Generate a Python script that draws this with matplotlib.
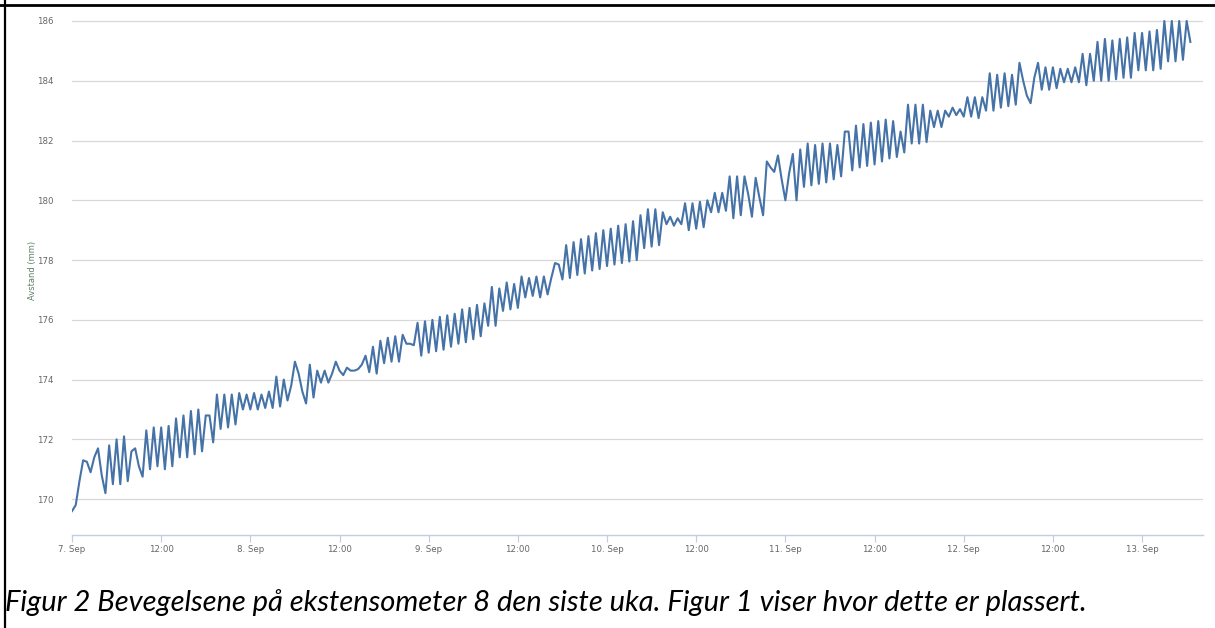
import numpy as np
import matplotlib
matplotlib.use("Agg")
import matplotlib.pyplot as plt
from matplotlib.lines import Line2D

# Distance readings (mm), one value every 30 minutes starting 7. Sep 00:00
values = [
    169.6, 169.8, 170.6, 171.3, 171.25, 170.9, 171.4, 171.7, 170.8, 170.2, 171.8, 170.5,
    172.0, 170.5, 172.1, 170.6, 171.6, 171.7, 171.1, 170.75, 172.3, 171.0, 172.4, 171.1,
    172.4, 171.0, 172.45, 171.1, 172.7, 171.4, 172.8, 171.4, 172.95, 171.5, 173.0, 171.6,
    172.8, 172.8, 171.9, 173.5, 172.35, 173.5, 172.4, 173.5, 172.5, 173.55, 173.0, 173.5,
    173.0, 173.55, 173.0, 173.5, 173.05, 173.6, 173.05, 174.1, 173.1, 174.0, 173.3, 173.8,
    174.6, 174.2, 173.6, 173.2, 174.5, 173.4, 174.3, 173.9, 174.3, 173.9, 174.2, 174.6,
    174.3, 174.15, 174.4, 174.3, 174.3, 174.35, 174.5, 174.8, 174.25, 175.1, 174.2, 175.3,
    174.55, 175.4, 174.6, 175.45, 174.6, 175.5, 175.2, 175.2, 175.15, 175.9, 174.8, 175.95,
    174.9, 176.0, 174.95, 176.1, 175.0, 176.15, 175.1, 176.2, 175.2, 176.35, 175.25, 176.4,
    175.35, 176.5, 175.45, 176.55, 175.8, 177.1, 175.8, 177.05, 176.3, 177.25, 176.35, 177.2,
    176.4, 177.45, 176.75, 177.4, 176.8, 177.45, 176.75, 177.45, 176.85, 177.4, 177.9, 177.85,
    177.35, 178.5, 177.4, 178.6, 177.5, 178.7, 177.55, 178.8, 177.65, 178.9, 177.7, 179.0,
    177.8, 179.05, 177.85, 179.15, 177.9, 179.2, 177.95, 179.3, 178.0, 179.5, 178.4, 179.7,
    178.45, 179.7, 178.5, 179.6, 179.2, 179.45, 179.15, 179.4, 179.2, 179.9, 179.0, 179.9,
    179.05, 179.95, 179.1, 180.0, 179.6, 180.25, 179.6, 180.25, 179.65, 180.8, 179.4, 180.8,
    179.5, 180.8, 180.2, 179.45, 180.75, 180.1, 179.5, 181.3, 181.1, 180.95, 181.5, 180.7,
    180.0, 180.9, 181.55, 180.0, 181.7, 180.45, 181.9, 180.5, 181.85, 180.55, 181.9, 180.6,
    181.9, 180.7, 181.85, 180.8, 182.3, 182.3, 181.0, 182.5, 181.1, 182.55, 181.15, 182.6,
    181.2, 182.65, 181.3, 182.7, 181.4, 182.65, 181.45, 182.3, 181.6, 183.2, 181.9, 183.2,
    181.9, 183.2, 181.95, 183.0, 182.45, 183.0, 182.45, 183.0, 182.8, 183.1, 182.85, 183.05,
    182.8, 183.45, 182.8, 183.45, 182.75, 183.45, 183.0, 184.25, 183.0, 184.2, 183.1, 184.25,
    183.15, 184.2, 183.2, 184.6, 184.0, 183.5, 183.25, 184.1, 184.6, 183.7, 184.45, 183.7,
    184.45, 183.75, 184.4, 183.95, 184.4, 183.95, 184.45, 183.95, 184.9, 183.85, 184.9, 184.0,
    185.3, 184.0, 185.4, 184.0, 185.35, 184.05, 185.4, 184.1, 185.45, 184.1, 185.6, 184.35,
    185.6, 184.35, 185.65, 184.35, 185.7, 184.4, 186.0, 184.65, 186.0, 184.65, 186.0, 184.7,
    186.0, 185.3,
]
step_hours = 0.5
hours = np.arange(len(values)) * step_hours

x_tick_hours = [0, 12, 24, 36, 48, 60, 72, 84, 96, 108, 120, 132, 144]
x_tick_labels = ["7. Sep", "12:00", "8. Sep", "12:00", "9. Sep", "12:00", "10. Sep",
                 "12:00", "11. Sep", "12:00", "12. Sep", "12:00", "13. Sep"]
y_ticks = [170, 172, 174, 176, 178, 180, 182, 184, 186]
y_label = "Avstand (mm)"
caption = "Figur 2 Bevegelsene på ekstensometer 8 den siste uka. Figur 1 viser hvor dette er plassert."

W, H = 1215, 628
fig = plt.figure(figsize=(W / 100, H / 100), dpi=100)
fig.patch.set_facecolor("white")

left, right = 72 / W, 1203 / W
bottom, top = 1 - 535 / H, 1 - 18 / H
ax = fig.add_axes([left, bottom, right - left, top - bottom])

ax.plot(hours, values, color="#4572A7", lw=1.5, solid_joinstyle="round")
ax.set_xlim(0, 152.2)
ax.set_ylim(168.8, 186.1)

ax.set_yticks(y_ticks)
ax.set_yticklabels([str(v) for v in y_ticks])
ax.set_xticks(x_tick_hours)
ax.set_xticklabels(x_tick_labels)

for sp in ["top", "right", "left"]:
    ax.spines[sp].set_visible(False)
ax.spines["bottom"].set_color("#c0d0e0")
ax.spines["bottom"].set_linewidth(1.0)

ax.grid(axis="y", color="#d8d8d8", lw=0.9)
ax.set_axisbelow(True)
ax.tick_params(axis="y", length=0, pad=13.5, labelsize=6.2, labelcolor="#666666")
ax.tick_params(axis="x", direction="out", length=5, width=0.9, color="#c0d0e0",
               pad=2, labelsize=6.2, labelcolor="#666666")

fig.text(32 / W, 1 - 270 / H, y_label, rotation=90, ha="center", va="center",
         fontsize=6.0, color="#5f7f66")

fig.text(5 / W, 1 - 603 / H, caption, ha="left", va="center", fontsize=21,
         style="italic", family="Lato", color="black")

# page borders
fig.add_artist(Line2D([0, 1], [1 - 5 / H, 1 - 5 / H], transform=fig.transFigure,
                      color="black", lw=2.0))
fig.add_artist(Line2D([5 / W, 5 / W], [0, 1], transform=fig.transFigure,
                      color="black", lw=1.6))

fig.savefig("out.png", dpi=100, facecolor="white")
